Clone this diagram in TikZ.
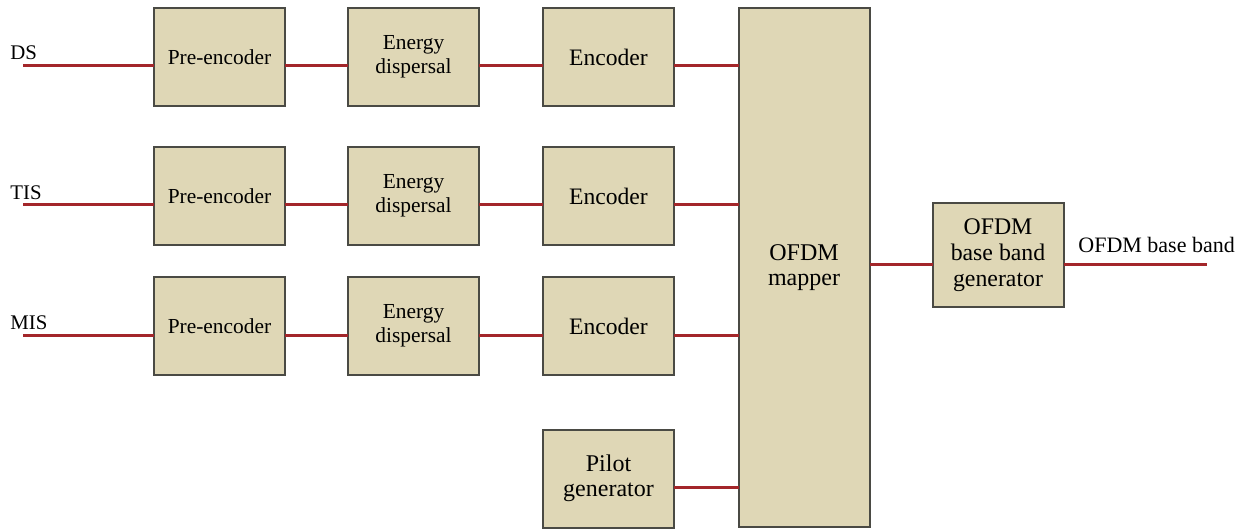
\documentclass[tikz,border=0pt]{standalone}
\usepackage{fontspec}
\setmainfont{Liberation Serif}
\usepackage{tikz}
\usetikzlibrary{positioning,calc}
\definecolor{boxfill}{HTML}{DFD7B6}
\definecolor{boxline}{HTML}{4A4A44}
\definecolor{sigred} {HTML}{A3262A}
\tikzset{
  % --- nodes
  blk/.style   = {draw=boxline, fill=boxfill, line width=1pt, inner sep=0pt, outer sep=0pt,
                  minimum width=65.5pt, minimum height=49pt, align=center,
                  font=\fontsize{10.7}{12}\selectfont},
  two/.style   = {blk, font=\fontsize{10.7}{12}\selectfont},
  big/.style   = {blk, font=\fontsize{12}{12.5}\selectfont},
  inlbl/.style = {anchor=base west, inner sep=0pt, font=\fontsize{10.4}{12}\selectfont},
  % --- edges
  sig/.style   = {draw=sigred, line width=1.5pt},
}
\begin{document}
\begin{tikzpicture}[x=0.5pt,y=-0.5pt]
  \useasboundingbox (0,0) rectangle (1257,529);
  % input rows
  \foreach \r/\y/\s in {1/57/DS, 2/196/TIS, 3/326/MIS}
  {
    \node[blk] (pre\r) at (219.5,\y) {Pre-encoder};
    \node[two] (ed\r)  at (413.5,\y) {Energy\\dispersal};
    \node[blk, font=\fontsize{11.8}{12}\selectfont] (enc\r) at (608.5,\y) {Encoder};
    \coordinate (in\r) at (23,\y+9);
    \node[inlbl] (lbl\r) at (10,\y+3) {\s};
  }
  % mapper, pilot, output stage
  \node[big, minimum height=259.5pt] (map) at (804,267.5) {OFDM\\mapper};
  \node[big] (pil) at (608.5,478.5) {Pilot\\generator};
  \node[blk, minimum height=52pt, font=\fontsize{11.9}{13}\selectfont] (gen) at (998,255)
    {OFDM\\base band\\generator};
  \coordinate (out) at (1207,264);
  \node[anchor=base west, inner sep=0pt, font=\fontsize{11}{12}\selectfont] (outlbl) at (1078,252)
    {OFDM base band};
  % wires
  \foreach \r in {1,2,3}
  {
    \draw[sig] (in\r) -- (in\r -| pre\r.west);
    \draw[sig] ([yshift=-4.5pt]pre\r.east) -- ([yshift=-4.5pt]ed\r.west);
    \draw[sig] ([yshift=-4.5pt]ed\r.east) -- ([yshift=-4.5pt]enc\r.west);
    \draw[sig] ([yshift=-4.5pt]enc\r.east) -- ([yshift=-4.5pt]enc\r.east -| map.west);
  }
  \draw[sig] ([yshift=-4.5pt]pil.east) -- ([yshift=-4.5pt]pil.east -| map.west);
  \draw[sig] ([yshift=-4.5pt]gen.west -| map.east) -- ([yshift=-4.5pt]gen.west);
  \draw[sig] ([yshift=-4.5pt]gen.east) -- (out);
\end{tikzpicture}
\end{document}
